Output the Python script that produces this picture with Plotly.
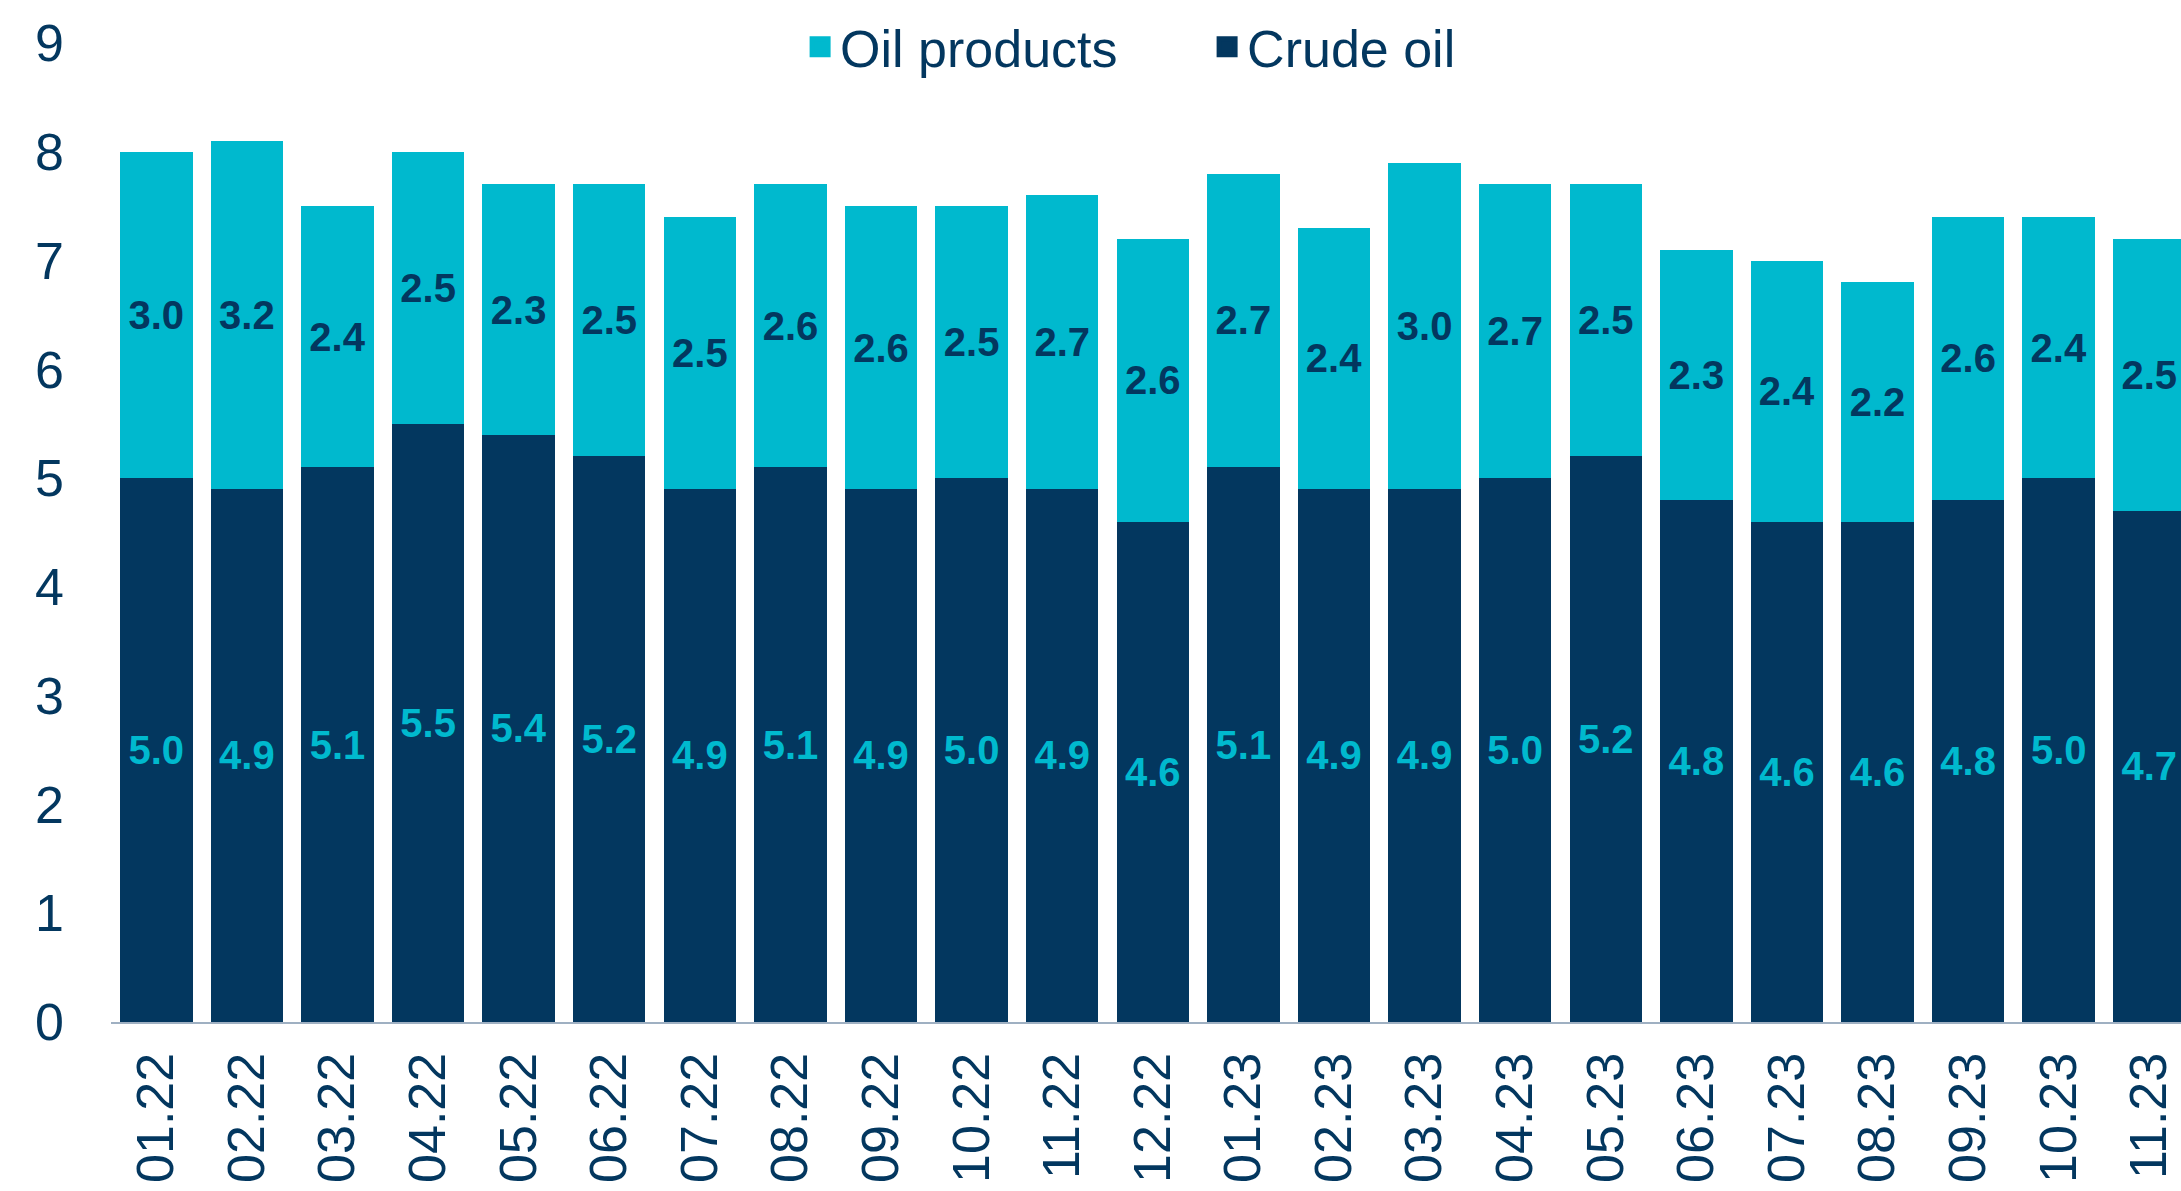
import plotly.graph_objects as go

# Data
months = ["01.22", "02.22", "03.22", "04.22", "05.22", "06.22", "07.22", "08.22",
          "09.22", "10.22", "11.22", "12.22", "01.23", "02.23", "03.23", "04.23",
          "05.23", "06.23", "07.23", "08.23", "09.23", "10.23", "11.23"]
crude_oil = [5.0, 4.9, 5.1, 5.5, 5.4, 5.2, 4.9, 5.1, 4.9, 5.0, 4.9, 4.6,
             5.1, 4.9, 4.9, 5.0, 5.2, 4.8, 4.6, 4.6, 4.8, 5.0, 4.7]
oil_products = [3.0, 3.2, 2.4, 2.5, 2.3, 2.5, 2.5, 2.6, 2.6, 2.5, 2.7, 2.6,
                2.7, 2.4, 3.0, 2.7, 2.5, 2.3, 2.4, 2.2, 2.6, 2.4, 2.5]

NAVY = "#03375F"
CYAN = "#00B9CE"
FONT = "Liberation Sans, Arial, sans-serif"

fig = go.Figure()

fig.add_trace(go.Bar(
    x=months, y=crude_oil, name="Crude oil", showlegend=False,
    marker=dict(color=NAVY, line=dict(width=0)),
    text=[f"{v:.1f}" for v in crude_oil],
    textposition="inside", insidetextanchor="middle", textangle=0,
    textfont=dict(family=FONT, size=40, color=CYAN, weight="bold"),
))
fig.add_trace(go.Bar(
    x=months, y=oil_products, name="Oil products", showlegend=False,
    marker=dict(color=CYAN, line=dict(width=0)),
    text=[f"{v:.1f}" for v in oil_products],
    textposition="inside", insidetextanchor="middle", textangle=0,
    textfont=dict(family=FONT, size=40, color=NAVY, weight="bold"),
))

# legend entries with bigger square swatches
for name, col in [("Oil products", CYAN), ("Crude oil", NAVY)]:
    fig.add_trace(go.Scatter(
        x=[None], y=[None], mode="markers", name=name,
        marker=dict(symbol="square", size=28, color=col,
                    line=dict(width=5, color=col)),
    ))

fig.update_layout(
    width=2181, height=1191,
    margin=dict(l=111, r=0, t=43, b=169),
    barmode="stack", bargap=0.2,
    plot_bgcolor="white", paper_bgcolor="white",
    font=dict(family=FONT, size=52, color=NAVY),
    legend=dict(
        orientation="h", traceorder="normal",
        x=0.3329, xanchor="left", y=0.996, yanchor="middle",
        font=dict(size=52, color=NAVY),
        itemsizing="trace", itemwidth=30, entrywidth=362,
        bgcolor="rgba(0,0,0,0)",
    ),
)

fig.update_xaxes(
    range=[-0.5, 22.35], tickangle=-90, showgrid=False, automargin=False,
    showline=True, linecolor="#9FB0C2", linewidth=2,
    ticks="", ticklabelstandoff=8,
    tickfont=dict(size=52, color=NAVY),
)
fig.update_yaxes(
    range=[0, 9], dtick=1, showgrid=False, zeroline=False, automargin=False,
    showline=False, ticks="", ticklabelstandoff=46,
    tickfont=dict(size=52, color=NAVY),
)

# remove the default body margin so the figure sits at the page corner
fig.write_html("out.html", config={"displayModeBar": False},
               post_script="document.body.style.margin='0';")
